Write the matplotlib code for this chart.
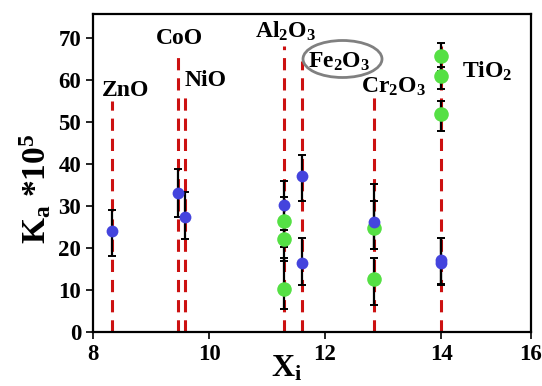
import matplotlib
matplotlib.use("Agg")
import matplotlib.pyplot as plt
from matplotlib.patches import Ellipse

plt.rcParams["font.family"] = ["Liberation Serif", "DejaVu Serif"]
plt.rcParams["font.weight"] = "bold"
plt.rcParams["mathtext.fontset"] = "custom"
plt.rcParams["mathtext.rm"] = "Liberation Serif:bold"
plt.rcParams["mathtext.bf"] = "Liberation Serif:bold"
plt.rcParams["mathtext.it"] = "Liberation Serif:bold"
plt.rcParams["mathtext.default"] = "bf"

# Oxides: electronegativity position and height of the guide line
oxides = ["ZnO", "CoO", "NiO", "Al$_2$O$_3$", "Fe$_2$O$_3$", "Cr$_2$O$_3$", "TiO$_2$"]
oxide_x = [8.33, 9.46, 9.59, 11.30, 11.61, 12.85, 14.0]
line_top = [55.0, 67.0, 57.0, 68.0, 64.5, 56.0, 68.0]

# Blue series
blue_x = [8.33, 9.46, 9.59, 11.30, 11.61, 11.61, 12.85, 14.0, 14.0]
blue_y = [24.0, 33.0, 27.3, 30.1, 37.0, 16.4, 26.1, 16.3, 17.0]
blue_hi = [29.0, 38.7, 33.2, 36.0, 42.0, 22.3, 35.2, 22.3, 22.3]
blue_lo = [18.1, 27.4, 22.0, 24.2, 31.1, 11.2, 19.7, 11.2, 11.5]

# Green series
green_x = [11.30, 11.30, 11.30, 12.85, 12.85, 14.0, 14.0, 14.0]
green_y = [26.3, 22.1, 10.3, 24.7, 12.6, 65.5, 60.9, 51.9]
green_hi = [32.0, 27.0, 17.5, 31.1, 17.7, 68.7, 63.0, 55.0]
green_lo = [20.1, 16.9, 5.4, 19.7, 6.4, 62.0, 57.7, 47.7]

x_ticks = [8, 10, 12, 14, 15.55]
x_tick_labels = ["8", "10", "12", "14", "16"]
y_ticks = [0, 10, 20, 30, 40, 50, 60, 70]

fig = plt.figure(figsize=(5.42, 3.86), dpi=100)
ax = fig.add_axes([0.1716, 0.140, 0.808, 0.8237])

# vertical guide lines
for x, top in zip(oxide_x, line_top):
    ax.plot([x, x], [0, top], color="#cc1111", lw=2.2,
            linestyle=(0, (4, 2.6)), zorder=1)

def draw_series(xs, ys, lo, hi, color, ms):
    err = [[y - l for y, l in zip(ys, lo)], [h - y for y, h in zip(ys, hi)]]
    ax.errorbar(xs, ys, yerr=err, fmt="none", ecolor="black", elinewidth=1.6,
                capsize=3, capthick=1.4, zorder=2)
    ax.plot(xs, ys, "o", color=color, markersize=ms, markeredgewidth=0, zorder=3)

draw_series(green_x, green_y, green_lo, green_hi, "#55e044", 10.5)
draw_series(blue_x, blue_y, blue_lo, blue_hi, "#4444dd", 8.5)

# oxide labels
label_pos = [(125.7, 90), (179.5, 38), (205.5, 80), (285, 31),
             (339, 62), (393, 87), (487, 71)]
for name, (px, py) in zip(oxides, label_pos):
    fx, fy = px / 542, 1 - py / 386
    fig.text(fx, fy, name, ha="center", va="center", fontsize=17,
             fontweight="bold")

# highlight ring around Fe2O3
ring = Ellipse((342.5 / 542, 1 - 59 / 386), 79 / 542, 37 / 386,
               transform=fig.transFigure, fill=False, edgecolor="#808080",
               lw=2.0)
fig.patches.append(ring)

ax.set_xlim(8, 15.55)
ax.set_ylim(0, 75.6)
ax.set_xticks(x_ticks)
ax.set_xticklabels(x_tick_labels)
ax.set_yticks(y_ticks)
ax.tick_params(axis="both", direction="out", length=5, width=1.2,
               labelsize=16.5, top=False, right=False)
for lbl in ax.get_xticklabels() + ax.get_yticklabels():
    lbl.set_fontweight("bold")
for sp in ax.spines.values():
    sp.set_linewidth(1.6)

fig.text(287 / 542, 1 - 369 / 386, "X$_\\mathbf{i}$", ha="center",
         va="center", fontsize=23, fontweight="bold")
ax.set_ylabel("K$_\\mathbf{a}$ *10$^\\mathbf{5}$", fontsize=24,
              fontweight="bold")
ax.yaxis.set_label_coords(-0.092, 0.45)

fig.savefig("out.png", dpi=100)
